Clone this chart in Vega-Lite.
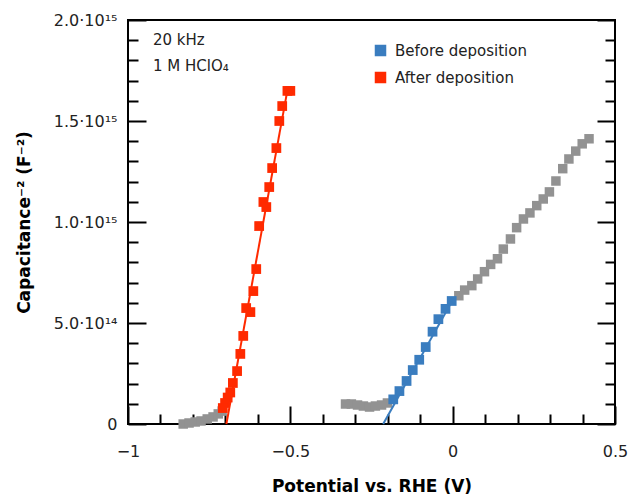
{
  "$schema": "https://vega.github.io/schema/vega-lite/v6.json",
  "autosize": "none",
  "width": 487,
  "height": 404,
  "padding": {"left": 128, "top": 20, "right": 16, "bottom": 73},
  "background": "white",
  "config": {
    "view": {"stroke": "#000", "strokeWidth": 2},
    "font": "DejaVu Sans",
    "axis": {"domain": false, "grid": false, "tickColor": "#000", "tickWidth": 2, "labelFont": "DejaVu Sans", "labelFontSize": 16, "labelColor": "#222", "titleFont": "DejaVu Sans", "titleFontWeight": "bold", "titleFontSize": 17, "titleColor": "#000"}
  },
  "datasets": {
    "gray": [
      {"x": -0.830, "y": 0.000}, {"x": -0.812, "y": 0.005}, {"x": -0.793, "y": 0.010}, {"x": -0.775, "y": 0.015},
      {"x": -0.756, "y": 0.025}, {"x": -0.738, "y": 0.035}, {"x": -0.722, "y": 0.050}, {"x": -0.710, "y": 0.064},
      {"x": -0.330, "y": 0.099}, {"x": -0.312, "y": 0.099}, {"x": -0.293, "y": 0.094}, {"x": -0.275, "y": 0.089},
      {"x": -0.256, "y": 0.084}, {"x": -0.238, "y": 0.089}, {"x": -0.219, "y": 0.094}, {"x": -0.201, "y": 0.104},
      {"x": 0.019, "y": 0.635}, {"x": 0.037, "y": 0.663}, {"x": 0.059, "y": 0.685}, {"x": 0.077, "y": 0.718},
      {"x": 0.098, "y": 0.754}, {"x": 0.117, "y": 0.790}, {"x": 0.138, "y": 0.818}, {"x": 0.156, "y": 0.866},
      {"x": 0.178, "y": 0.916}, {"x": 0.197, "y": 0.972}, {"x": 0.218, "y": 1.015}, {"x": 0.238, "y": 1.045},
      {"x": 0.259, "y": 1.081}, {"x": 0.279, "y": 1.114}, {"x": 0.298, "y": 1.149}, {"x": 0.318, "y": 1.203},
      {"x": 0.339, "y": 1.264}, {"x": 0.358, "y": 1.312}, {"x": 0.379, "y": 1.351}, {"x": 0.399, "y": 1.387},
      {"x": 0.420, "y": 1.412}
    ],
    "pts": [
      {"x": -0.183, "y": 0.122, "s": "Before deposition"}, {"x": -0.164, "y": 0.163, "s": "Before deposition"},
      {"x": -0.142, "y": 0.213, "s": "Before deposition"}, {"x": -0.123, "y": 0.267, "s": "Before deposition"},
      {"x": -0.103, "y": 0.318, "s": "Before deposition"}, {"x": -0.083, "y": 0.381, "s": "Before deposition"},
      {"x": -0.062, "y": 0.457, "s": "Before deposition"}, {"x": -0.044, "y": 0.519, "s": "Before deposition"},
      {"x": -0.022, "y": 0.570, "s": "Before deposition"}, {"x": -0.003, "y": 0.609, "s": "Before deposition"},
      {"x": -0.509, "y": 1.649, "s": "After deposition"}, {"x": -0.500, "y": 1.649, "s": "After deposition"},
      {"x": -0.525, "y": 1.574, "s": "After deposition"}, {"x": -0.534, "y": 1.500, "s": "After deposition"},
      {"x": -0.543, "y": 1.366, "s": "After deposition"}, {"x": -0.556, "y": 1.267, "s": "After deposition"},
      {"x": -0.565, "y": 1.173, "s": "After deposition"}, {"x": -0.583, "y": 1.099, "s": "After deposition"},
      {"x": -0.574, "y": 1.074, "s": "After deposition"}, {"x": -0.596, "y": 0.980, "s": "After deposition"},
      {"x": -0.605, "y": 0.767, "s": "After deposition"}, {"x": -0.614, "y": 0.658, "s": "After deposition"},
      {"x": -0.636, "y": 0.574, "s": "After deposition"}, {"x": -0.623, "y": 0.554, "s": "After deposition"},
      {"x": -0.645, "y": 0.436, "s": "After deposition"}, {"x": -0.654, "y": 0.347, "s": "After deposition"},
      {"x": -0.664, "y": 0.262, "s": "After deposition"}, {"x": -0.677, "y": 0.203, "s": "After deposition"},
      {"x": -0.685, "y": 0.156, "s": "After deposition"}, {"x": -0.693, "y": 0.131, "s": "After deposition"},
      {"x": -0.701, "y": 0.104, "s": "After deposition"}, {"x": -0.708, "y": 0.079, "s": "After deposition"}
    ],
    "fits": [
      {"x": -0.214, "y": 0.0, "s": "Before deposition"}, {"x": -0.003, "y": 0.605, "s": "Before deposition"},
      {"x": -0.697, "y": 0.0, "s": "After deposition"}, {"x": -0.507, "y": 1.67, "s": "After deposition"}
    ],
    "notes": [
      {"x": -0.923, "y": 1.90, "t": "20 kHz"},
      {"x": -0.923, "y": 1.772, "t": "1 M HClO₄"}
    ]
  },
  "resolve": {"scale": {"y": "independent"}},
  "encoding": {
    "x": {"field": "x", "type": "quantitative", "scale": {"domain": [-1, 0.5], "nice": false, "zero": false},
      "axis": {"orient": "bottom", "title": "Potential vs. RHE (V)", "titlePadding": 11,
        "values": [-1, -0.9, -0.8, -0.7, -0.6, -0.5, -0.4, -0.3, -0.2, -0.1, 0, 0.1, 0.2, 0.3, 0.4, 0.5],
        "labelExpr": "datum.value == -1 ? '−1' : datum.value == -0.5 ? '−0.5' : datum.value == 0 ? '0' : datum.value == 0.5 ? '0.5' : ''",
        "tickSize": {"condition": {"test": "datum.value == -1 || datum.value == -0.5 || datum.value == 0 || datum.value == 0.5", "value": -18}, "value": -10},
        "labelPadding": 37, "labelFlush": false, "labelOverlap": false}}
  },
  "layer": [
    {
      "data": {"name": "gray"},
      "mark": {"type": "point", "shape": "square", "filled": true, "size": 90, "opacity": 1, "color": "#929292"},
      "encoding": {
        "y": {"field": "y", "type": "quantitative", "scale": {"domain": [0, 2], "nice": false, "zero": false},
          "axis": {"orient": "left", "title": "Capacitance⁻² (F⁻²)", "titlePadding": 20,
            "values": [0, 0.1, 0.2, 0.3, 0.4, 0.5, 0.6, 0.7, 0.8, 0.9, 1, 1.1, 1.2, 1.3, 1.4, 1.5, 1.6, 1.7, 1.8, 1.9, 2],
            "labelExpr": "datum.value == 0 ? '0' : datum.value == 0.5 ? '5.0·10¹⁴' : datum.value == 1 ? '1.0·10¹⁵' : datum.value == 1.5 ? '1.5·10¹⁵' : datum.value == 2 ? '2.0·10¹⁵' : ''",
            "tickSize": {"condition": {"test": "datum.value == 0 || datum.value == 0.5 || datum.value == 1 || datum.value == 1.5 || datum.value == 2", "value": -18}, "value": -10},
            "labelPadding": 29, "labelOverlap": false}}
      }
    },
    {
      "data": {"name": "pts"},
      "mark": {"type": "point", "shape": "square", "filled": true, "size": 95, "opacity": 1},
      "encoding": {
        "y": {"field": "y", "type": "quantitative", "scale": {"domain": [0, 2], "nice": false, "zero": false},
          "axis": {"orient": "right", "title": null, "labels": false,
            "values": [0, 0.1, 0.2, 0.3, 0.4, 0.5, 0.6, 0.7, 0.8, 0.9, 1, 1.1, 1.2, 1.3, 1.4, 1.5, 1.6, 1.7, 1.8, 1.9, 2],
            "tickSize": {"condition": {"test": "datum.value == 0 || datum.value == 0.5 || datum.value == 1 || datum.value == 1.5 || datum.value == 2", "value": -18}, "value": -10}}},
        "color": {"field": "s", "type": "nominal",
          "scale": {"domain": ["Before deposition", "After deposition"], "range": ["#3a7dbf", "#ff2a00"]},
          "legend": {"title": null, "orient": "none", "legendX": 245, "legendY": 23, "symbolType": "square", "symbolSize": 100,
            "labelFont": "DejaVu Sans", "labelFontSize": 15, "labelColor": "#222", "rowPadding": 10, "labelOffset": 7}}
      }
    },
    {
      "data": {"name": "fits"},
      "mark": {"type": "line", "strokeWidth": 2},
      "encoding": {
        "y": {"field": "y", "type": "quantitative", "scale": {"domain": [0, 2], "nice": false, "zero": false}, "axis": null},
        "color": {"field": "s", "type": "nominal", "legend": null}
      }
    },
    {
      "data": {"name": "notes"},
      "mark": {"type": "text", "align": "left", "baseline": "middle", "font": "DejaVu Sans", "fontSize": 15, "color": "#222"},
      "encoding": {
        "y": {"field": "y", "type": "quantitative", "scale": {"domain": [0, 2], "nice": false, "zero": false}, "axis": null},
        "text": {"field": "t"}
      }
    }
  ]
}
